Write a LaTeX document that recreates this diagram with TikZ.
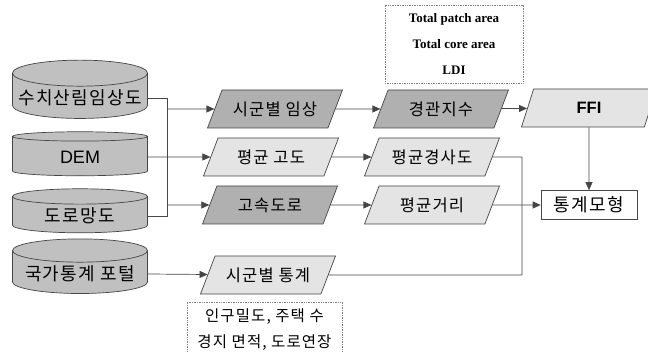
\documentclass[tikz,border=0pt]{standalone}
\usepackage{fontspec}
\setmainfont{Liberation Sans}
\newfontfamily\krfont[LetterSpace=7]{Noto Sans CJK KR}
\newfontfamily\tmfont{Liberation Serif}
\usetikzlibrary{arrows.meta,shapes.geometric}

\definecolor{dbgray}{RGB}{192,192,192}
\definecolor{darkpara}{RGB}{176,176,176}
\definecolor{lightpara}{RGB}{228,228,228}
\definecolor{linegray}{RGB}{70,70,70}

\tikzset{
  db/.style={cylinder, shape border rotate=90, aspect=0.2, draw=linegray,
             fill=dbgray, minimum width=135pt, minimum height=44pt,
             font=\krfont\fontsize{18}{18}\selectfont},
  data/.style={trapezium, trapezium left angle=56, trapezium right angle=124,
               trapezium stretches body, draw=linegray, minimum width=135pt,
               minimum height=38pt, font=\krfont\fontsize{16.5}{16.5}\selectfont},
  darkdata/.style={data, fill=darkpara},
  lightdata/.style={data, fill=lightpara},
  result/.style={rectangle, draw=linegray, fill=white, minimum width=96pt,
                 minimum height=29pt, font=\krfont\fontsize{18}{18}\selectfont},
  note/.style={rectangle, draw=gray, densely dotted, align=center}
}

\begin{document}
\begin{tikzpicture}[x=1pt,y=-1pt,>={Triangle[length=8pt,width=7pt]},
                    line width=0.7pt]

        \path[use as bounding box] (0,0) rectangle (648,352);
        \fill[white] (0,0) rectangle (648,352);
        \clip (0,0) rectangle (648,352);

        % sources
        \node[db] (nfi) at (80,98) {수치산림임상도};
        \node[db] (dem) at (80,157) {\rmfamily DEM};
        \node[db] (road) at (80,216) {도로망도};
        \node[db] (portal) at (80,274) {국가통계 포털};

        % derived data
        \node[darkdata] (forest) at (275,109) {시군별 임상};
        \node[darkdata] (lsi) at (441,109) {경관지수};
        \node[lightdata] (ffi) at (589,108) {\rmfamily\bfseries FFI};
        \node[lightdata] (alt) at (271,157) {평균 고도};
        \node[lightdata] (slope) at (432,157) {평균경사도};
        \node[darkdata] (hwy) at (270,205) {고속도로};
        \node[lightdata] (dist) at (432,205) {평균거리};
        \node[lightdata] (stat) at (268,275) {시군별 통계};
        \node[result] (model) at (589,205) {통계모형};

        \node[note, minimum width=138pt, minimum height=78pt,
              font=\tmfont\bfseries\fontsize{13}{26}\selectfont] (lsinote) at (454,44)
          {Total patch area\\Total core area\\LDI};
        \node[note, minimum width=155pt, minimum height=56pt,
              font=\krfont\fontsize{15.5}{26}\selectfont] (statnote) at (264.5,330)
          {인구밀도, 주택 수\\경지 면적, 도로연장};

        \coordinate (bus) at (167,0);
        \coordinate (join) at (522,0);

        \begin{scope}[draw=linegray]
        \draw (nfi.east) -| (bus |- road.east) -- (road.east);
        \draw[->] (bus |- forest) -- (forest);
        \draw[->] (dem.east) -- (alt);
        \draw[->] (bus |- hwy) -- (hwy);
        \draw[->] (portal.east) -- (stat);
        \draw[->] (forest) -- (lsi);
        \draw[->] (lsi) -- (ffi);
        \draw[->] (alt) -- (slope);
        \draw[->] (hwy) -- (dist);
        \draw (slope.east) -- (join |- slope) -- (join |- stat) -- (stat);
        \draw[->] (dist) -- (model);
        \draw[->] (ffi) -- (model);
        \end{scope}
    \end{tikzpicture}
\end{document}
